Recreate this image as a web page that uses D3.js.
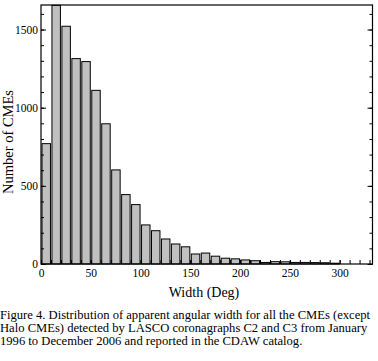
<!DOCTYPE html>
<html>
<head>
<meta charset="utf-8">
<script src="https://cdn.jsdelivr.net/npm/d3@7"></script>
<style>
  body { margin: 0; background: #fff; }
  svg { display: block; }
  text { font-family: "Liberation Serif", "DejaVu Serif", serif; fill: #000; }
</style>
</head>
<body>
<div id="chart"></div>
<script>
// bin starts (deg) and number of CMEs per 10-deg bin
const binStarts = [0, 10, 20, 30, 40, 50, 60, 70, 80, 90, 100, 110, 120, 130, 140,
    150, 160, 170, 180, 190, 200, 210, 220, 230, 240, 250, 260, 270, 280, 290];
const counts = [770, 1655, 1521, 1314, 1295, 1111, 897, 602, 444, 380, 250, 213, 160, 128, 110,
    64, 70, 50, 37, 33, 26, 21, 10, 15, 14, 10, 10, 9, 8, 5];
const binWidth = 10;
const xTickLabels = [0, 50, 100, 150, 200, 250, 300];
const yTickLabels = [0, 500, 1000, 1500];
const captionLines = [
    "Figure 4. Distribution of apparent angular width for all the CMEs (except",
    "Halo CMEs) detected by LASCO coronagraphs C2 and C3 from January",
    "1996 to December 2006 and reported in the CDAW catalog."
];

(function() {
    const width = 378;
    const height = 361;
    const plot = { left: 41, right: 372.5, top: 5, bottom: 264 };

    const svg = d3.select("#chart")
        .append("svg")
        .attr("width", width)
        .attr("height", height)
        .attr("viewBox", [0, 0, width, height]);

    const x = d3.scaleLinear().domain([0, 333]).range([plot.left, plot.right]);
    const y = d3.scaleLinear().domain([0, 1657]).range([plot.bottom, plot.top]);

    // bars
    svg.append("g")
        .selectAll("rect")
        .data(binStarts)
        .join("rect")
        .attr("x", (d) => x(d) + 1)
        .attr("y", (d, i) => y(counts[i]))
        .attr("width", (d) => x(d + binWidth) - x(d) - 1.5)
        .attr("height", (d, i) => y(0) - y(counts[i]))
        .attr("fill", "#c0c0c0")
        .attr("stroke", "#000")
        .attr("stroke-width", 1);

    const noText = (g) => g.selectAll("text").remove();
    const clean = (g) => g.select(".domain").remove();

    // left axis: minor + major ticks pointing inward
    svg.append("g")
        .attr("transform", `translate(${plot.left},0)`)
        .call(d3.axisLeft(y).tickValues(d3.range(0, 1700, 100)).tickSize(-3))
        .call(clean).call(noText);
    svg.append("g")
        .attr("transform", `translate(${plot.left},0)`)
        .call(d3.axisLeft(y).tickValues(yTickLabels).tickSize(-5).tickPadding(3)
            .tickFormat(d3.format("d")))
        .call(clean)
        .call((g) => g.selectAll("text").style("font-size", "11.5px"));

    // right axis mirror
    svg.append("g")
        .attr("transform", `translate(${plot.right},0)`)
        .call(d3.axisRight(y).tickValues(d3.range(0, 1700, 100)).tickSize(-3))
        .call(clean).call(noText);
    svg.append("g")
        .attr("transform", `translate(${plot.right},0)`)
        .call(d3.axisRight(y).tickValues(yTickLabels).tickSize(-5))
        .call(clean).call(noText);

    // bottom axis
    svg.append("g")
        .attr("transform", `translate(0,${plot.bottom})`)
        .call(d3.axisBottom(x).tickValues(d3.range(0, 340, 10)).tickSize(-4))
        .call(clean).call(noText);
    svg.append("g")
        .attr("transform", `translate(0,${plot.bottom})`)
        .call(d3.axisBottom(x).tickValues(xTickLabels).tickSize(-4).tickPadding(5)
            .tickFormat(d3.format("d")))
        .call(clean)
        .call((g) => g.selectAll("text").style("font-size", "11.5px"));

    // frame
    svg.append("rect")
        .attr("x", plot.left)
        .attr("y", plot.top)
        .attr("width", plot.right - plot.left)
        .attr("height", plot.bottom - plot.top)
        .attr("fill", "none")
        .attr("stroke", "#000")
        .attr("stroke-width", 1.2);

    // axis titles
    svg.append("text")
        .attr("transform", `translate(13,142) rotate(-90)`)
        .attr("text-anchor", "middle")
        .style("font-size", "14.5px")
        .text("Number of CMEs");

    svg.append("text")
        .attr("x", 204)
        .attr("y", 297)
        .attr("text-anchor", "middle")
        .style("font-size", "14px")
        .text("Width (Deg)");

    // caption
    svg.append("g")
        .selectAll("text")
        .data(captionLines)
        .join("text")
        .attr("x", 0)
        .attr("y", (d, i) => 319 + i * 12.8)
        .style("font-size", "12.6px")
        .text((d) => d);
})();
</script>
</body>
</html>
